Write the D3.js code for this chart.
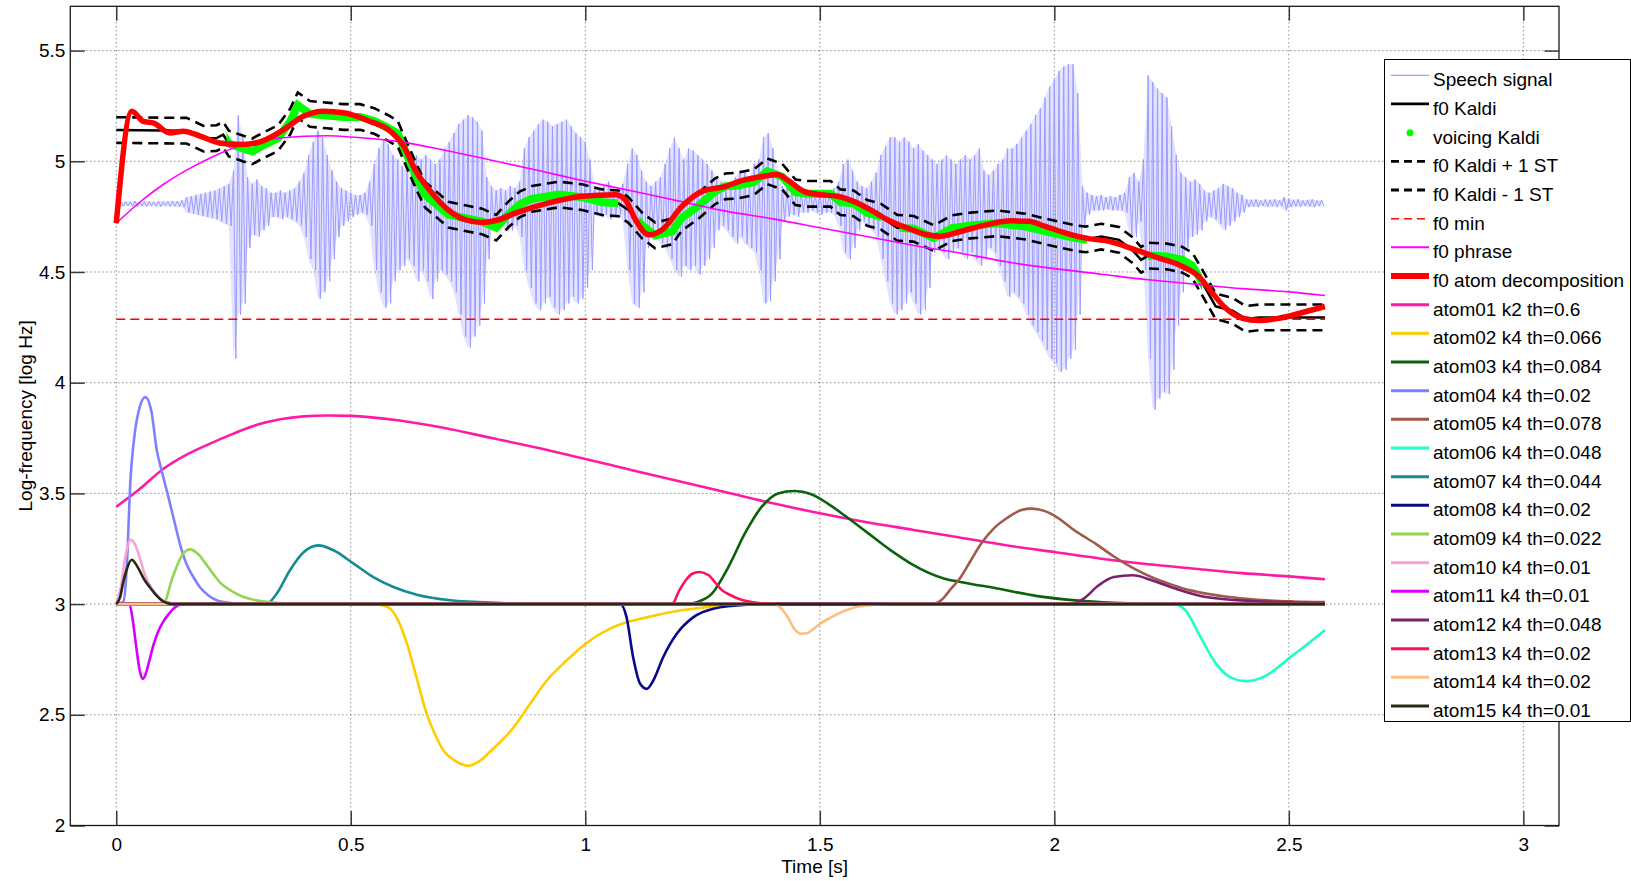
<!DOCTYPE html>
<html><head><meta charset="utf-8">
<script src="https://cdn.jsdelivr.net/npm/d3@7"></script>
<style>
html,body{margin:0;padding:0;background:#fff;}
svg{display:block;font-family:"Liberation Sans",Arial,Helvetica,sans-serif;}
</style></head><body>
<svg id="chart" width="1631" height="881"></svg>
<script>
// ---------------- DATA ----------------
const xTicks = [0, 0.5, 1, 1.5, 2, 2.5, 3];
const xTickLabels = ["0", "0.5", "1", "1.5", "2", "2.5", "3"];
const yTicks = [2, 2.5, 3, 3.5, 4, 4.5, 5, 5.5];
const yTickLabels = ["2", "2.5", "3", "3.5", "4", "4.5", "5", "5.5"];

// speech signal: envelope extremes per 10 ms frame (amplitude, offset display at speechBase)
const speechBase = 4.808, speechT0 = 0, speechDt = 0.01;
const sigHi = [0.012,0.008,0.01,0.009,0.012,0.008,0.01,0.011,0.009,0.012,0.01,0.011,0.013,0.012,0.015,
0.03,0.035,0.04,0.045,0.05,0.055,0.06, 0.07,0.08,0.09, 0.15,0.40,0.30,0.12, 0.09,0.11,0.08,0.07,
0.05,0.05,0.06,0.05,0.06,0.07, 0.10,0.14,0.22, 0.28,0.33,0.30,0.22,0.15, 0.10,0.07,0.06,0.05,0.04,
0.04,0.05,0.10, 0.18,0.25,0.29,0.27,0.22,0.20, 0.17,0.15,0.20,0.22,0.20, 0.22,0.20,0.18,0.20,0.25,
0.28,0.32,0.36,0.38,0.40,0.39,0.37,0.33, 0.12,0.08,0.06,0.07,0.06,0.08,0.07,0.10,
0.25,0.30,0.33,0.36,0.38,0.37,0.35,0.36,0.37,0.38,0.35,0.32,0.30,0.28,0.20,
0.08,0.07,0.08,0.10,0.07,0.06,0.09, 0.18,0.25,0.22,0.15,0.10,0.08, 0.10,0.12,0.18,0.25,0.30,0.25,0.20,
0.25,0.24,0.22,0.20,0.18,0.15, 0.12,0.10,0.08,0.10,0.12,0.15, 0.15,0.12,0.18,0.20,0.30,0.32,0.25,
0.15,0.08,0.07,0.06,0.07, 0.06,0.05,0.06,0.05,0.06,0.06,0.05,0.07, 0.10,0.18,0.20,0.15,0.10,
0.08,0.07,0.10,0.14, 0.22,0.26,0.30,0.30,0.28,0.30,0.28,0.25,0.27,0.24,0.22,
0.20,0.18,0.20,0.22,0.20,0.18,0.20,0.22,0.20,0.22,0.25, 0.15,0.13,0.15,0.18,0.20,0.25,
0.25,0.27,0.30,0.33,0.36,0.40,0.43,0.48,0.53,0.56,0.60,0.62,0.63,0.63,0.50,
0.08,0.05,0.04,0.035,0.04,0.03,0.035,0.03,0.04,0.05, 0.12,0.14,0.10,
0.20,0.58,0.55,0.52,0.50,0.48,0.35,0.22, 0.14,0.12,0.10,0.11,0.09,
0.06,0.05,0.06,0.07,0.09,0.08,0.07,0.05,0.04,
0.02,0.018,0.02,0.015,0.02,0.018,0.02,0.016,0.03,0.02,0.018,0.02,0.015,0.018,0.02,0.015,0.017];
const sigLo = [-0.01,-0.012,-0.009,-0.011,-0.013,-0.01,-0.012,-0.01,-0.011,-0.013,-0.01,-0.012,-0.011,-0.014,-0.015,
-0.04,-0.045,-0.05,-0.055,-0.06,-0.065,-0.07, -0.08,-0.09,-0.10, -0.70,-0.50,-0.45,-0.20, -0.14,-0.15,-0.12,-0.10,
-0.06,-0.06,-0.07,-0.06,-0.07,-0.08, -0.10,-0.15,-0.25, -0.30,-0.43,-0.40,-0.35,-0.25, -0.15,-0.10,-0.08,-0.06,-0.05,
-0.04,-0.05,-0.10, -0.30,-0.40,-0.47,-0.45,-0.35,-0.30, -0.28,-0.25,-0.28,-0.35,-0.30, -0.35,-0.43,-0.35,-0.30,-0.32,
-0.35,-0.40,-0.50,-0.60,-0.65,-0.60,-0.55,-0.45, -0.25,-0.12,-0.10,-0.10,-0.12,-0.12,-0.10,-0.15,
-0.30,-0.38,-0.45,-0.48,-0.45,-0.42,-0.47,-0.50,-0.48,-0.45,-0.42,-0.45,-0.43,-0.38,-0.30,
-0.05,-0.06,-0.05,-0.07,-0.06,-0.05,-0.08, -0.30,-0.45,-0.47,-0.40,-0.20,-0.12, -0.15,-0.18,-0.20,-0.25,-0.30,-0.33,-0.28,
-0.30,-0.28,-0.32,-0.28,-0.25,-0.20, -0.12,-0.10,-0.12,-0.15,-0.18,-0.15, -0.18,-0.20,-0.22,-0.30,-0.45,-0.44,-0.35,
-0.25,-0.08,-0.06,-0.05,-0.06, -0.04,-0.04,-0.03,-0.04,-0.05,-0.04,-0.04,-0.05, -0.10,-0.22,-0.25,-0.20,-0.12,
-0.08,-0.10,-0.12,-0.15, -0.25,-0.35,-0.45,-0.50,-0.48,-0.45,-0.40,-0.45,-0.50,-0.48,-0.38,
-0.22,-0.20,-0.22,-0.25,-0.22,-0.20,-0.22,-0.25,-0.22,-0.25,-0.28, -0.25,-0.20,-0.22,-0.28,-0.35,-0.42,
-0.40,-0.42,-0.45,-0.50,-0.55,-0.58,-0.62,-0.66,-0.70,-0.72,-0.76,-0.75,-0.70,-0.66,-0.50,
-0.10,-0.05,-0.03,-0.03,-0.03,-0.025,-0.03,-0.03,-0.03,-0.04, -0.14,-0.15,-0.08,
-0.30,-0.70,-0.93,-0.88,-0.85,-0.86,-0.75,-0.55, -0.40,-0.20,-0.15,-0.14,-0.12,
-0.08,-0.06,-0.07,-0.09,-0.12,-0.10,-0.08,-0.06,-0.04,
-0.015,-0.012,-0.015,-0.01,-0.014,-0.012,-0.015,-0.01,-0.03,-0.015,-0.012,-0.014,-0.01,-0.012,-0.015,-0.01,-0.012];

// f0 Kaldi and +/- 1 semitone
const kaldiT = [0,0.15,0.186,0.214,0.228,0.24,0.271,0.29,0.31,0.345,0.371,0.387,0.413,0.449,0.484,0.52,0.55,0.58,0.6,0.613,
0.641,0.658,0.708,0.744,0.78,0.81,0.836,0.86,0.886,0.943,0.993,1.036,1.071,1.092,1.121,1.149,1.185,1.206,1.242,1.277,
1.299,1.324,1.359,1.388,1.42,1.448,1.473,1.523,1.544,1.572,1.601,1.63,1.665,1.7,1.743,1.782,1.821,1.878,1.939,1.981,
2.045,2.067,2.1,2.138,2.166,2.185,2.2,2.24,2.273,2.294,2.316,2.344,2.38,2.408,2.437,2.577];
const kaldiF0 = [5.141,5.138,5.102,5.105,5.12,5.08,5.057,5.045,5.068,5.105,5.18,5.253,5.214,5.207,5.2,5.2,5.182,5.15,5.125,5.06,
4.925,4.85,4.759,4.743,4.728,4.70,4.76,4.805,4.83,4.85,4.838,4.815,4.81,4.78,4.71,4.665,4.683,4.745,4.80,4.865,
4.887,4.89,4.905,4.955,4.93,4.86,4.853,4.853,4.815,4.81,4.767,4.75,4.70,4.695,4.653,4.698,4.71,4.72,4.705,4.683,
4.653,4.647,4.66,4.645,4.60,4.555,4.574,4.57,4.555,4.53,4.45,4.345,4.325,4.288,4.295,4.295];
const kaldiUp = [5.199,5.196,5.160,5.163,5.178,5.138,5.115,5.103,5.126,5.163,5.238,5.311,5.272,5.265,5.258,5.258,5.240,5.208,5.183,5.118,
4.983,4.908,4.817,4.801,4.786,4.758,4.818,4.863,4.888,4.908,4.896,4.873,4.868,4.838,4.768,4.723,4.741,4.803,4.858,4.923,
4.945,4.948,4.963,5.013,4.988,4.918,4.911,4.911,4.873,4.868,4.825,4.808,4.758,4.753,4.711,4.756,4.768,4.778,4.763,4.741,
4.711,4.705,4.718,4.703,4.658,4.613,4.632,4.628,4.613,4.588,4.508,4.403,4.383,4.346,4.353,4.353];
const kaldiDown = [5.083,5.080,5.044,5.047,5.062,5.022,4.999,4.987,5.010,5.047,5.122,5.195,5.156,5.149,5.142,5.142,5.124,5.092,5.067,5.002,
4.867,4.792,4.701,4.685,4.670,4.642,4.702,4.747,4.772,4.792,4.780,4.757,4.752,4.722,4.652,4.607,4.625,4.687,4.742,4.807,
4.829,4.832,4.847,4.897,4.872,4.802,4.795,4.795,4.757,4.752,4.709,4.692,4.642,4.637,4.595,4.640,4.652,4.662,4.647,4.625,
4.595,4.589,4.602,4.587,4.542,4.497,4.516,4.512,4.497,4.472,4.392,4.287,4.267,4.230,4.237,4.237];
// voiced regions (Kaldi voicing)
const voicedStart = [0.235, 1.115, 1.67, 2.2];
const voicedEnd   = [1.07, 1.63, 2.07, 2.315];

// f0 min
const f0MinT = [0, 2.577];
const f0MinV = [4.287, 4.287];

// f0 phrase
const phraseT = [0,0.05,0.1,0.15,0.2,0.25,0.3,0.35,0.4,0.45,0.5,0.6,0.7,0.8,0.9,1.0,1.1,1.2,1.3,1.4,1.5,1.6,1.7,1.8,1.9,2.0,2.1,2.2,2.3,2.4,2.5,2.577];
const phraseV = [4.72,4.815,4.895,4.96,5.015,5.06,5.09,5.105,5.113,5.115,5.11,5.09,5.05,5.005,4.958,4.91,4.866,4.82,4.775,4.74,4.70,4.66,4.62,4.585,4.545,4.515,4.49,4.465,4.445,4.425,4.41,4.394];

// f0 atom decomposition
const atomDecT = [0,0.033,0.058,0.08,0.114,0.143,0.18,0.22,0.27,0.31,0.357,0.40,0.442,0.484,0.54,0.584,0.613,0.637,0.673,0.708,
0.744,0.78,0.815,0.851,0.922,0.993,1.064,1.085,1.107,1.135,1.164,1.206,1.249,1.3,1.33,1.38,1.409,1.43,1.466,1.501,
1.537,1.572,1.608,1.644,1.686,1.729,1.757,1.8,1.857,1.907,1.945,1.981,2.024,2.067,2.117,2.173,2.223,2.273,2.308,2.337,
2.365,2.401,2.437,2.479,2.529,2.577];
const atomDecV = [4.72,5.226,5.18,5.172,5.128,5.136,5.113,5.083,5.076,5.09,5.143,5.204,5.226,5.219,5.181,5.136,5.068,4.962,4.857,4.78,
4.736,4.724,4.736,4.766,4.812,4.842,4.849,4.827,4.736,4.668,4.691,4.796,4.864,4.887,4.91,4.932,4.94,4.917,4.864,4.849,
4.842,4.819,4.781,4.736,4.699,4.668,4.661,4.683,4.714,4.731,4.729,4.706,4.676,4.653,4.638,4.6,4.563,4.525,4.48,4.405,
4.337,4.291,4.281,4.291,4.317,4.344];

// atoms
const atomNames = ["atom01 k2 th=0.6","atom02 k4 th=0.066","atom03 k4 th=0.084","atom04 k4 th=0.02","atom05 k4 th=0.078",
"atom06 k4 th=0.048","atom07 k4 th=0.044","atom08 k4 th=0.02","atom09 k4 th=0.022","atom10 k4 th=0.01",
"atom11 k4 th=0.01","atom12 k4 th=0.048","atom13 k4 th=0.02","atom14 k4 th=0.02","atom15 k4 th=0.01"];
const atomColors = ["#ff1aa6","#ffcc00","#0a620a","#8080ff","#a05a4b","#1cffc6","#178a94","#0a0a88","#95d44f","#f7a3d6",
"#d400ff","#7a2070","#ff0f5a","#ffbd82","#2a2a14"];
const atomTimes = [
 [0,0.05,0.1,0.15,0.2,0.25,0.3,0.35,0.4,0.45,0.5,0.6,0.7,0.8,0.9,1.0,1.1,1.2,1.3,1.4,1.5,1.6,1.7,1.8,1.9,2.0,2.1,2.2,2.3,2.4,2.5,2.577],
 [0,0.55,0.58,0.6,0.62,0.64,0.662,0.68,0.698,0.72,0.751,0.776,0.8,0.82,0.847,0.882,0.918,0.96,1.0,1.06,1.131,1.202,1.273,1.38,2.577],
 [0,1.213,1.24,1.27,1.305,1.34,1.376,1.411,1.446,1.482,1.517,1.553,1.6,1.65,1.695,1.766,1.8,1.882,1.964,2.045,2.127,2.25,2.577],
 [0,0.015,0.022,0.03,0.04,0.05,0.062,0.075,0.086,0.097,0.108,0.122,0.136,0.15,0.165,0.178,0.196,0.214,0.24,0.27,0.3,2.577],
 [0,1.74,1.76,1.78,1.80,1.82,1.843,1.87,1.9,1.93,1.951,1.98,2.0,2.045,2.09,2.127,2.17,2.209,2.25,2.29,2.33,2.372,2.41,2.453,2.51,2.577],
 [0,2.255,2.28,2.312,2.345,2.375,2.408,2.43,2.454,2.48,2.503,2.54,2.577],
 [0,0.32,0.342,0.37,0.4,0.431,0.463,0.506,0.548,0.591,0.641,0.712,0.82,0.95,2.577],
 [0,1.075,1.088,1.102,1.117,1.131,1.145,1.166,1.195,1.23,1.273,1.344,1.4,2.577],
 [0,0.1,0.12,0.14,0.157,0.175,0.19,0.207,0.225,0.25,0.27,0.292,0.32,0.35,0.4,2.577],
 [0,0.01,0.02,0.03,0.04,0.05,0.06,0.07,0.085,0.1,0.12,0.15,2.577],
 [0,0.028,0.035,0.043,0.05,0.056,0.062,0.07,0.08,0.09,0.1,0.11,0.125,0.14,2.577],
 [0,2.035,2.062,2.094,2.127,2.167,2.209,2.258,2.323,2.421,2.577],
 [0,1.185,1.2,1.215,1.228,1.243,1.263,1.28,1.292,1.31,1.327,1.37,1.42,2.577],
 [0,1.405,1.42,1.432,1.445,1.46,1.472,1.482,1.5,1.524,1.553,1.6,1.65,2.577],
 [0,0.008,0.015,0.022,0.033,0.042,0.05,0.06,0.072,0.085,0.1,0.12,2.577]
];
const atomValues = [
 [3.44,3.52,3.61,3.675,3.725,3.77,3.81,3.835,3.848,3.852,3.85,3.83,3.795,3.75,3.705,3.655,3.605,3.555,3.505,3.455,3.41,3.37,3.335,3.30,3.265,3.235,3.205,3.18,3.16,3.14,3.125,3.112],
 [3,3,2.985,2.93,2.82,2.67,2.504,2.41,2.338,2.295,2.27,2.293,2.34,2.38,2.443,2.549,2.655,2.745,2.82,2.896,2.94,2.971,2.989,3.0,3.0],
 [3,3,3.01,3.047,3.167,3.318,3.439,3.5,3.511,3.496,3.454,3.40,3.325,3.245,3.182,3.115,3.10,3.069,3.036,3.017,3.006,3.0,3.0],
 [3,3.01,3.15,3.55,3.78,3.89,3.935,3.87,3.70,3.60,3.51,3.39,3.27,3.18,3.12,3.077,3.04,3.017,3.006,3.002,3.0,3.0],
 [3,3,3.02,3.07,3.12,3.19,3.27,3.34,3.39,3.425,3.431,3.42,3.40,3.33,3.27,3.215,3.16,3.12,3.088,3.062,3.045,3.032,3.024,3.017,3.012,3.009],
 [3,3,2.97,2.85,2.73,2.67,2.652,2.658,2.68,2.72,2.76,2.82,2.883],
 [3,3,3.047,3.152,3.235,3.265,3.243,3.183,3.122,3.077,3.042,3.017,3.005,3.0,3.0],
 [3,3,2.94,2.76,2.64,2.617,2.655,2.76,2.866,2.94,2.979,2.997,3.0,3.0],
 [3,3.0,3.12,3.22,3.247,3.225,3.185,3.135,3.09,3.054,3.033,3.02,3.01,3.004,3.0,3.0],
 [3,3.08,3.22,3.29,3.27,3.21,3.14,3.09,3.045,3.015,3.004,3.0,3.0],
 [3,3.0,2.93,2.80,2.70,2.662,2.68,2.74,2.82,2.88,2.92,2.95,2.985,3.0,3.0],
 [3,3,3.024,3.084,3.122,3.13,3.107,3.07,3.032,3.014,3.005],
 [3,3,3.06,3.11,3.137,3.145,3.13,3.09,3.062,3.04,3.024,3.005,3.0,3.0],
 [3,3,2.975,2.94,2.89,2.866,2.868,2.88,2.91,2.94,2.97,2.995,3.0,3.0],
 [3,3.03,3.10,3.155,3.20,3.18,3.15,3.11,3.075,3.04,3.012,3.0,3.0]
];

const legendLabels = ["Speech signal","f0 Kaldi","voicing Kaldi","f0 Kaldi + 1 ST","f0 Kaldi - 1 ST","f0 min","f0 phrase","f0 atom decomposition"].concat(atomNames);

// ---------------- DRAWING ----------------
const W = 1631, H = 881;
const PL = 70.3, PR = 1559, PT = 6.3, PB = 825.5;
const FS = 19;
const x = d3.scaleLinear().domain([-0.098, 3.076]).range([PL, PR]);
const y = d3.scaleLinear().domain([2, 5.7]).range([PB, PT]);
const sig = d3.scaleLinear().domain([-1, 1]).range([y(speechBase - 1), y(speechBase + 1)]);

const svg = d3.select("#chart");
svg.append("rect").attr("width", W).attr("height", H).attr("fill", "#fff");

const zip = (ts, vs) => ts.map((t, i) => [t, vs[i]]).filter(d => d[1] !== undefined);

// grid
const grid = svg.append("g");
xTicks.forEach(t => grid.append("line").attr("x1", x(t)).attr("x2", x(t)).attr("y1", PT).attr("y2", PB)
  .attr("stroke", "#555").attr("stroke-width", 1).attr("stroke-dasharray", "1,3"));
yTicks.forEach(v => grid.append("line").attr("x1", PL).attr("x2", PR).attr("y1", y(v)).attr("y2", y(v))
  .attr("stroke", "#555").attr("stroke-width", 1).attr("stroke-dasharray", "1,3"));

const plot = svg.append("g");
const lineLin = d3.line().x(d => x(d[0])).y(d => y(d[1]));
const lineSmooth = d3.line().x(d => x(d[0])).y(d => y(d[1])).curve(d3.curveMonotoneX);

// speech signal: light core + zigzag through the extremes
const sigFrames = sigHi.map((h, i) => ({t: speechT0 + i * speechDt, hi: h, lo: sigLo[i]})).filter(d => d.lo !== undefined);
plot.append("path").datum(sigFrames)
  .attr("d", d3.area().x(d => x(d.t)).y0(d => sig(d.lo)).y1(d => sig(d.hi)))
  .attr("fill", "#9b9bff").attr("fill-opacity", 0.28);
const sigPts = [];
sigFrames.forEach(d => { sigPts.push([d.t, d.hi]); sigPts.push([d.t + speechDt / 2, d.lo]); });
plot.append("path").datum(sigPts)
  .attr("d", d3.line().x(d => x(d[0])).y(d => sig(d[1])))
  .attr("fill", "none").attr("stroke", "#9b9bff").attr("stroke-width", 1);

// f0 Kaldi
const kaldiData = zip(kaldiT, kaldiF0);
plot.append("path").datum(kaldiData).attr("d", lineLin)
  .attr("fill", "none").attr("stroke", "#000").attr("stroke-width", 2.5);

// voicing
const clip = svg.append("clipPath").attr("id", "vclip");
voicedStart.forEach((s, i) => clip.append("rect").attr("x", x(s)).attr("y", 0)
  .attr("width", x(voicedEnd[i]) - x(s)).attr("height", H));
plot.append("path").datum(kaldiData).attr("d", lineLin).attr("clip-path", "url(#vclip)")
  .attr("fill", "none").attr("stroke", "#00ff00").attr("stroke-width", 8);

// +/- 1 ST
[kaldiUp, kaldiDown].forEach(arr => plot.append("path").datum(zip(kaldiT, arr)).attr("d", lineLin)
  .attr("fill", "none").attr("stroke", "#000").attr("stroke-width", 2.6).attr("stroke-dasharray", "10,6"));

// f0 min
plot.append("path").datum(zip(f0MinT, f0MinV)).attr("d", lineLin)
  .attr("fill", "none").attr("stroke", "#ff0000").attr("stroke-width", 1.5).attr("stroke-dasharray", "9,5");

// f0 phrase
plot.append("path").datum(zip(phraseT, phraseV)).attr("d", lineSmooth)
  .attr("fill", "none").attr("stroke", "#ff00ff").attr("stroke-width", 1.6);

// f0 atom decomposition
plot.append("path").datum(zip(atomDecT, atomDecV)).attr("d", lineSmooth)
  .attr("fill", "none").attr("stroke", "#ff0000").attr("stroke-width", 5.5).attr("stroke-linejoin", "round");

// atoms
atomTimes.forEach((ts, i) => plot.append("path").datum(zip(ts, atomValues[i])).attr("d", lineSmooth)
  .attr("fill", "none").attr("stroke", atomColors[i]).attr("stroke-width", 2.6));

// axes
const tickLen = 14.5;
const axB = svg.append("g").attr("transform", `translate(0,${PB})`)
  .call(d3.axisBottom(x).tickValues(xTicks).tickFormat((d, i) => xTickLabels[i]).tickSizeInner(-tickLen).tickSizeOuter(0).tickPadding(12));
const axT = svg.append("g").attr("transform", `translate(0,${PT})`)
  .call(d3.axisTop(x).tickValues(xTicks).tickFormat("").tickSizeInner(-tickLen).tickSizeOuter(0));
const axL = svg.append("g").attr("transform", `translate(${PL},0)`)
  .call(d3.axisLeft(y).tickValues(yTicks).tickFormat((d, i) => yTickLabels[i]).tickSizeInner(-tickLen).tickSizeOuter(0).tickPadding(5));
const axR = svg.append("g").attr("transform", `translate(${PR},0)`)
  .call(d3.axisRight(y).tickValues(yTicks).tickFormat("").tickSizeInner(-tickLen).tickSizeOuter(0));
[axB, axT, axL, axR].forEach(g => {
  g.select(".domain").remove();
  g.selectAll(".tick line").attr("stroke", "#3a3a3a").attr("stroke-width", 1.5);
  g.selectAll(".tick text").attr("font-size", FS).attr("fill", "#000")
    .attr("font-family", '"Liberation Sans",Arial,sans-serif');
});
svg.append("rect").attr("x", PL).attr("y", PT).attr("width", PR - PL).attr("height", PB - PT)
  .attr("fill", "none").attr("stroke", "#1a1a1a").attr("stroke-width", 1.3);

svg.append("text").attr("x", (PL + PR) / 2).attr("y", 873).attr("text-anchor", "middle")
  .attr("font-size", FS).text("Time [s]");
svg.append("text").attr("transform", `translate(32,${(PT + PB) / 2}) rotate(-90)`).attr("text-anchor", "middle")
  .attr("font-size", FS).text("Log-frequency [log Hz]");

// legend
const LX = 1384.5, LY = 59.5, LW = 246, LH = 662, rowH = 28.67, row0 = 79.3;
const leg = svg.append("g");
leg.append("rect").attr("x", LX).attr("y", LY).attr("width", LW).attr("height", LH)
  .attr("fill", "#fff").attr("stroke", "#000").attr("stroke-width", 1);
const legStyles = [
  {c: "#9b9bff", w: 1.2},
  {c: "#000", w: 2.8},
  {dot: true, c: "#00ff00"},
  {c: "#000", w: 2.8, dash: "8,5"},
  {c: "#000", w: 2.8, dash: "8,5"},
  {c: "#ff0000", w: 1.5, dash: "8,5"},
  {c: "#ff00ff", w: 2},
  {c: "#ff0000", w: 6}
].concat(atomColors.map(c => ({c: c, w: 3})));
legendLabels.forEach((lab, i) => {
  const cy = row0 + i * rowH;
  const st = legStyles[i];
  if (st.dot) {
    leg.append("circle").attr("cx", 1410).attr("cy", cy - 4).attr("r", 3.5).attr("fill", st.c);
  } else {
    const l = leg.append("line").attr("x1", 1391).attr("x2", 1429).attr("y1", cy - 4).attr("y2", cy - 4)
      .attr("stroke", st.c).attr("stroke-width", st.w);
    if (st.dash) l.attr("stroke-dasharray", st.dash);
  }
  leg.append("text").attr("x", 1433).attr("y", cy + 2).attr("font-size", FS).attr("fill", "#000")
    .attr("dominant-baseline", "middle").text(lab);
});
</script>
</body></html>
